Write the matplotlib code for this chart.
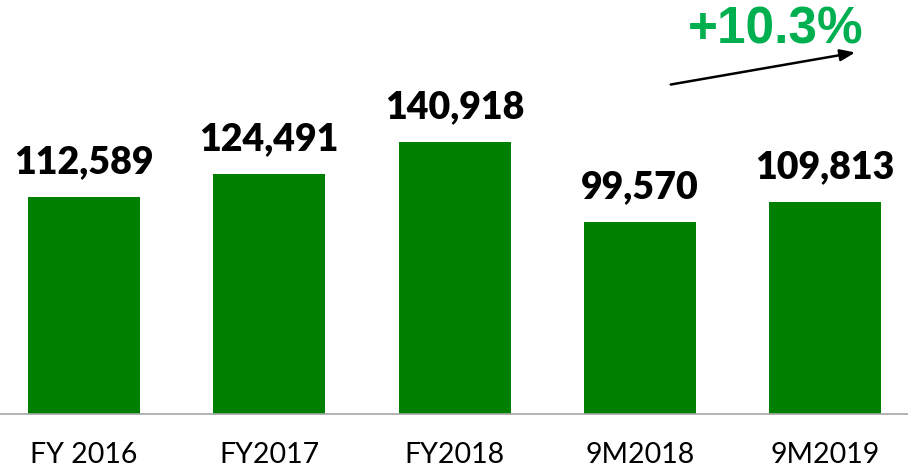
import matplotlib
matplotlib.use("Agg")
import matplotlib.pyplot as plt

categories = ["FY 2016", "FY2017", "FY2018", "9M2018", "9M2019"]
values = [112589, 124491, 140918, 99570, 109813]
growth_label = "+10.3%"

fig = plt.figure(figsize=(9.08, 4.72), dpi=100)
ax = fig.add_axes([0, 58/472, 1, 414/472])
x = list(range(len(categories)))
ax.bar(x, values, width=0.604, color="#008000")
ax.set_xlim(-0.453, 4.447)
ax.set_ylim(0, 214800)
for s in ["top", "right", "left"]:
    ax.spines[s].set_visible(False)
ax.spines["bottom"].set_color("#A6A6A6")
ax.spines["bottom"].set_linewidth(1.2)
ax.set_yticks([])
ax.set_xticks(x)
ax.set_xticklabels(categories, fontfamily="Lato", fontsize=20.5)
ax.tick_params(axis="x", length=0, pad=20)

for xi, v in zip(x, values):
    ax.annotate(f"{v:,}", (xi, v), xytext=(0, 13), textcoords="offset points",
                ha="center", va="bottom", fontfamily="Lato", fontweight="heavy",
                fontsize=27, color="black")

fig.text(776/908, 1 - 30/472, growth_label, ha="center", va="center",
         fontfamily="Liberation Sans", fontweight="bold", fontsize=37, color="#00B050")
ax.annotate("", xy=(858/908, 1 - 52/472), xytext=(668/908, 1 - 85/472),
            xycoords="figure fraction", textcoords="figure fraction",
            arrowprops=dict(arrowstyle="-|>,head_length=0.9,head_width=0.35", color="black", lw=1.8),
            annotation_clip=False)

fig.savefig("out.png", dpi=100)
